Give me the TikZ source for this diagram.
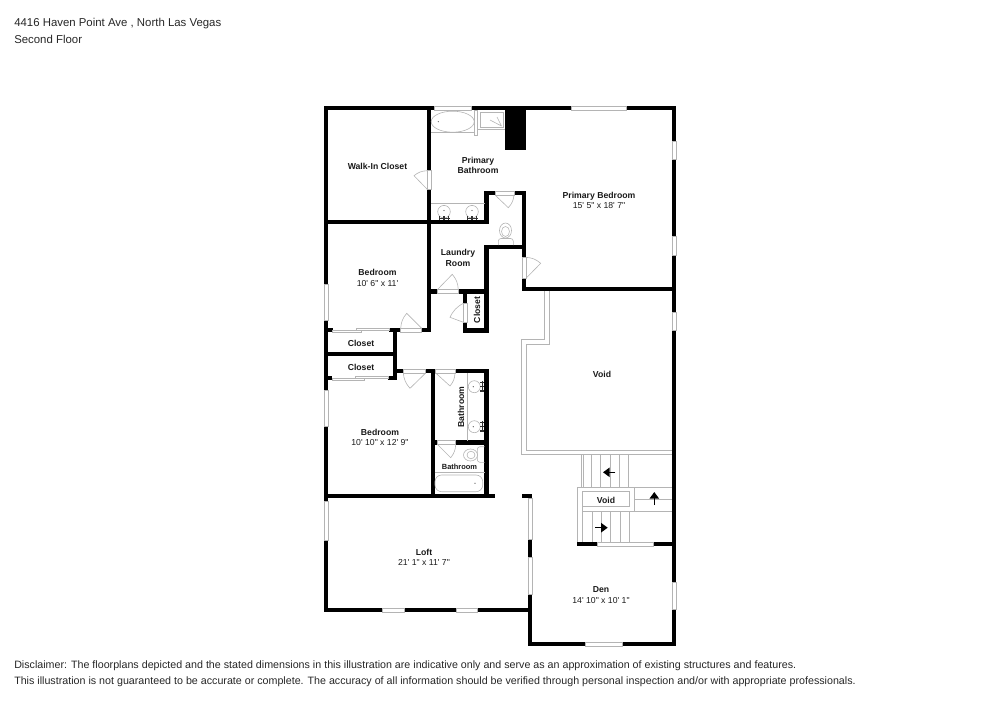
\documentclass[tikz,border=0pt]{standalone}
\usepackage{fontspec}
\newfontfamily\lab{Liberation Sans}
\usetikzlibrary{arrows.meta}
\definecolor{fix}{HTML}{B4B4B4}
\tikzset{
  x=0.75pt,y=-0.75pt,
  wall/.style={line width=3.25pt,line cap=rect,draw=black},
  win/.style={draw=fix,fill=white,line width=0.45pt},
  thinl/.style={draw=fix,line width=0.45pt},
  stairl/.style={draw=fix,line width=0.5pt},
  room/.style={font=\lab\fontsize{6.5}{7.2}\selectfont,align=center,inner sep=0pt,text=black!90},
  head/.style={font=\lab\fontsize{8.02}{10}\selectfont,anchor=base west,inner sep=0pt,text=black!85},
  head2/.style={head,font=\lab\fontsize{8.55}{10}\selectfont},
  arr/.style={-{Triangle[length=5pt,width=7pt]},line width=1.1pt,draw=black},
  tapmark/.style={fill=black!80,draw=none}
}
\newcommand{\labname}[1]{\textbf{#1}}
\begin{document}
\begin{tikzpicture}
\useasboundingbox (0,0) rectangle (1000,707);
% header
\node[head2] (addr) at (14,26) {4416 Haven Point Ave , North Las Vegas};
\node[head2] (floor) at (14,43.5) {Second Floor};
\node[head] (dis1) at (14,668) {Disclaimer: The floorplans depicted and the stated dimensions in this illustration are indicative only and serve as an approximation of existing structures and features.};
\node[head] (dis2) at (14,684) {This illustration is not guaranteed to be accurate or complete. The accuracy of all information should be verified through personal inspection and/or with appropriate professionals.};
% void outline and stairs (under walls)
\draw[stairl] (544.3,290) -- (544.3,339.3) -- (521.7,339.3) -- (521.7,454.7) -- (672,454.7);
\draw[stairl] (549,290) -- (549,344) -- (526.5,344) -- (526.5,450) -- (672,450);
\foreach \sx in {581.7,591,600.7,610,619.3,628.7}{\draw[stairl] (\sx,454.7) -- (\sx,487.3);}
\draw[stairl] (583,454.7) -- (583,487.3);
\draw[stairl] (577.7,544) -- (577.7,487.3) -- (672.7,487.3);
\draw[stairl] (582.3,544) -- (582.3,506.7);
\draw[stairl] (582.3,491.3) rectangle (629.3,506.7);
\draw[stairl] (582.3,511.3) -- (634,511.3);
\draw[stairl] (634,487.3) -- (634,511.3);
\draw[stairl] (634,499.3) -- (672.7,499.3);
\draw[stairl] (634,511.3) -- (672.7,511.3);
\foreach \sx in {592,601.3,610.7,620,629.3}{\draw[stairl] (\sx,511.3) -- (\sx,543);}
\draw[arr] (615.3,472.3) -- (603,472.3);
\draw[arr] (654.3,505) -- (654.3,492);
\draw[arr] (595,527.7) -- (607.7,527.7);
% walls
\draw[wall] (326,108) -- (674,108) -- (674,644) -- (530,644) -- (530,496) -- (524,496);
\draw[wall] (326,108) -- (326,610) -- (530,610);
\draw[wall] (429,108) -- (429,222);
\draw[wall] (326,222) -- (486.5,222);
\fill (505,108) rectangle (526,150);
\draw[wall] (486.5,222) -- (486.5,193) -- (524,193) -- (524,288.7) -- (674,288.7);
\draw[wall] (486.5,247) -- (524,247);
\draw[wall] (429,222) -- (429,330) -- (395,330) -- (395,378);
\draw[wall] (486.5,247) -- (486.5,330.5) -- (465.3,330.5) -- (465.3,291.5);
\draw[wall] (429,291.5) -- (486.5,291.5);
\draw[wall] (326,330) -- (395,330);
\draw[wall] (326,354) -- (395,354);
\draw[wall] (326,378) -- (395,378);
\draw[wall] (395,371) -- (486.5,371) -- (486.5,496);
\draw[wall] (432.7,371) -- (432.7,496);
\draw[wall] (432.7,442.5) -- (486.5,442.5);
\draw[wall] (326,496) -- (492.5,496);
\draw[wall] (579.5,544.3) -- (674,544.3);
% windows
\draw[win] (434.7,106) rectangle (471,110.4);
\draw[win] (571.7,106) rectangle (626.7,110.4);
\draw[win] (672.2,141.3) rectangle (676,159.3);
\draw[win] (672.2,236.7) rectangle (676,255);
\draw[win] (672.2,312.3) rectangle (676,330);
\draw[win] (672.2,582.3) rectangle (676,609.3);
\draw[win] (585.7,642) rectangle (622.3,646);
\draw[win] (382.3,608) rectangle (404,612);
\draw[win] (456,608) rectangle (477.7,612);
\draw[win] (324,284) rectangle (327.8,320.7);
\draw[win] (324,390) rectangle (327.8,426.7);
\draw[win] (324,501.7) rectangle (327.8,540);
\draw[win] (528.2,498) rectangle (532,539);
\draw[win] (528.2,557) rectangle (532,594.3);
\draw[win] (597.7,542.3) rectangle (653.3,546.3);
% sliding doors
\fill[white] (332.7,327.5) rectangle (389,332.5);
\fill[white] (332.3,375.5) rectangle (388,380.5);
\draw[win] (332.7,330) rectangle (361.7,331.8);
\draw[win] (356.7,328.5) rectangle (389,330.3);
\draw[win] (332.3,378) rectangle (364.3,380);
\draw[win] (355.7,376.2) rectangle (388.3,378);
% door gaps
\draw[win] (427.2,170.7) rectangle (431,189.3);
\draw[win] (495,191) rectangle (514,195);
\draw[win] (522.2,257.3) rectangle (526,278.3);
\draw[win] (437.3,289.7) rectangle (458.3,293.3);
\draw[win] (463.4,303.3) rectangle (467.2,322.3);
\draw[win] (400.7,328.3) rectangle (421.7,332);
\draw[win] (403.3,369.2) rectangle (425.7,373);
\draw[win] (435.7,369.2) rectangle (455,373);
\draw[win] (437.3,440.7) rectangle (455.7,444.3);
% door leaves
\draw[thinl] (427.2,189.3) -- (414,175.7) to[bend left=18] (427.2,170.7);
\draw[thinl] (495,195) -- (508.3,207.7) to[bend right=18] (514,195);
\draw[thinl] (526,278.3) -- (540.7,263.3) to[bend right=18] (526,257.3);
\draw[thinl] (437.3,289.7) -- (452.3,274.3) to[bend left=18] (458.3,289.7);
\draw[thinl] (463.4,322.3) -- (450,317.3) to[bend left=18] (463.4,303.3);
\draw[thinl] (421.7,328.3) -- (406.7,313.3) to[bend right=18] (400.7,328.3);
\draw[thinl] (425.7,373) -- (410,388.3) to[bend left=18] (403.3,373);
\draw[thinl] (435.7,373) -- (450,386) to[bend right=18] (455,373);
\draw[thinl] (437.3,444.3) -- (450.7,457.7) to[bend right=18] (455.7,444.3);
% tub and shower
\draw[thinl] (431,132.6) -- (474.3,132.6);
\draw[thinl] (474.3,110.7) rectangle (477.7,135.7);
\draw[thinl] (452.7,121.7) ellipse [x radius=21.5,y radius=10.5];
\fill[black!70] (438.3,121.7) circle (0.6);
\draw[thinl] (477.7,129) -- (505,129);
\draw[thinl] (480.3,112.3) rectangle (503,127.3);
\draw[thinl] (490,120) -- (501.5,126) (497,117) -- (501.5,126);
% primary vanity and toilet
\draw[thinl] (431,203.3) -- (485,203.3);
\foreach \cx in {444,472}{
  \draw[thinl] (\cx,211.7) circle (6.3);
  \fill[black!70] (\cx,210.5) circle (0.6);
  \fill[tapmark] (\cx-5.5,217.6) rectangle (\cx+5.5,218.6);
  \fill[tapmark] (\cx-0.6,215.5) rectangle (\cx+0.6,219.5);
  \fill[tapmark] (\cx-4.8,216) rectangle (\cx-3.6,219.5);
  \fill[tapmark] (\cx+3.6,216) rectangle (\cx+4.8,219.5);
}
\draw[thinl] (505.5,230.5) ellipse [x radius=6,y radius=7.5];
\draw[thinl] (505.5,231.5) ellipse [x radius=4,y radius=5];
\draw[thinl,rounded corners=2] (498.3,245) -- (498.3,238.5) -- (513.3,238.5) -- (513.3,245);
% upper bathroom fixtures
\draw[thinl] (467.7,373) -- (467.7,440.7);
\foreach \cy in {386.7,426.7}{
  \draw[thinl] (474.3,\cy) circle (6);
  \fill[black!70] (473.3,\cy) circle (0.6);
  \fill[tapmark] (481.8,\cy-5.5) rectangle (482.8,\cy+5.5);
  \fill[tapmark] (479.8,\cy-0.6) rectangle (483.8,\cy+0.6);
  \fill[tapmark] (480.2,\cy-4.8) rectangle (483.8,\cy-3.6);
  \fill[tapmark] (480.2,\cy+3.6) rectangle (483.8,\cy+4.8);
}
% lower bathroom fixtures
\draw[thinl,rounded corners=2] (484.5,446.7) -- (477.3,446.7) -- (477.3,462.3) -- (484.5,462.3);
\draw[thinl] (470.5,455) ellipse [x radius=7,y radius=6];
\draw[thinl] (471,455) ellipse [x radius=4,y radius=3.8];
\draw[thinl] (434.7,472.7) -- (484.7,472.7);
\draw[thinl,rounded corners=5] (435,475) rectangle (482.7,491.7);
\fill[black!70] (475,483.3) circle (0.6);
% labels
\node[room] (walkin) at (377.5,166.3) {\labname{Walk-In Closet}};
\node[room] (pbath) at (478,165.6) {\labname{Primary}\\[0.6pt]\labname{Bathroom}};
\node[room] (pbed) at (599,200.2) {\labname{Primary Bedroom}\\[0.6pt]15' 5" x 18' 7"};
\node[room] (bed1) at (377.5,277.7) {\labname{Bedroom}\\[0.6pt]10' 6" x 11'};
\node[room] (laundry) at (458,258) {\labname{Laundry}\\[0.6pt]\labname{Room}};
\node[room,rotate=90] (closet3) at (477,310) {\labname{Closet}};
\node[room] (closet1) at (361,343) {\labname{Closet}};
\node[room] (closet2) at (361,367) {\labname{Closet}};
\node[room] (void1) at (602,374) {\labname{Void}};
\node[room,rotate=90] (bath1) at (461,407) {\labname{Bathroom}};
\node[room,font=\lab\fontsize{5.6}{6.5}\selectfont] (bath2) at (459.5,467) {\labname{Bathroom}};
\node[room] (bed2) at (380,437.2) {\labname{Bedroom}\\[0.6pt]10' 10" x 12' 9"};
\node[room] (void2) at (606,500) {\labname{Void}};
\node[room] (loft) at (424,557.2) {\labname{Loft}\\[0.6pt]21' 1" x 11' 7"};
\node[room] (den) at (601,595.2) {\labname{Den}\\[0.6pt]14' 10" x 10' 1"};
\end{tikzpicture}
\end{document}
